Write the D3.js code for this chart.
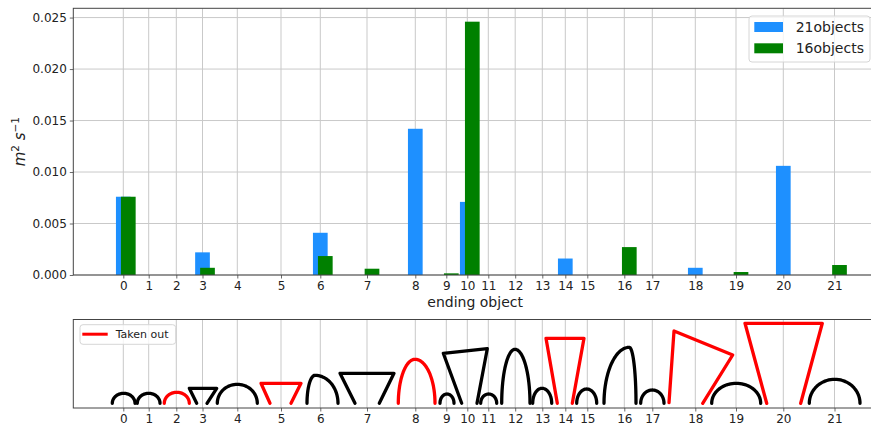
<!DOCTYPE html>
<html>
<head>
<meta charset="utf-8">
<script src="https://cdn.jsdelivr.net/npm/d3@7"></script>
<style>
  html, body { margin: 0; padding: 0; background: #fff; }
  svg { display: block; font-family: "DejaVu Sans", sans-serif; }
</style>
</head>
<body>
<svg id="chart" width="871" height="430"></svg>
<script>
// ---- data ----
const objectLabels = ['0', '1', '2', '3', '4', '5', '6', '7', '8', '9', '10',
    '11', '12', '13', '14', '15', '16', '17', '18', '19', '20', '21'];

// position of each object along the track (same units on both panels)
const objectPos = [5.0, 7.54, 10.3, 12.92, 16.4, 20.77, 24.7, 29.37, 34.2, 37.3, 39.4,
    41.5, 44.19, 46.9, 49.2, 51.4, 55.1, 57.9, 62.2, 66.27, 71.0, 76.12];

const series21 = [0.0076, 0, 0, 0.0022, 0, 0, 0.0041, 0, 0.0142, 0, 0.0071,
    0, 0, 0, 0.0016, 0, 0, 0, 0.0007, 0, 0.0106, 0];
const series16 = [0.0076, 0, 0, 0.0007, 0, 0, 0.00184, 0.00061, 0, 0.00016, 0.0246,
    0, 0, 0, 0, 0, 0.00271, 0, 0, 0.00029, 0, 0.00097];

const seriesNames = ['21objects', '16objects'];
const seriesColors = ['#1e90ff', '#008000'];

const yTicks = [0, 0.005, 0.010, 0.015, 0.020, 0.025];

// objects that were taken out (drawn red)
const takenOut = [2, 5, 8, 14, 18, 20];

// object outlines, relative to the object position
// arc: l = left foot, p = peak, r = right foot, h = height
// open: polyline points [dx, dy]
const outlines = [
    { kind: 'arc', l: -1.10, p: 0.04, r: 1.17, h: 1.0 },
    { kind: 'arc', l: -1.14, p: 0.0, r: 1.13, h: 1.0 },
    { kind: 'arc', l: -1.20, p: 0.05, r: 1.30, h: 1.1 },
    { kind: 'open', pts: [[-0.58, 0], [-1.32, 1.5], [1.42, 1.5], [0.45, 0]] },
    { kind: 'arc', l: -2.0, p: 0.0, r: 2.0, h: 1.9 },
    { kind: 'open', pts: [[-1.1, 0], [-2.0, 2.0], [2.0, 2.0], [1.0, 0]] },
    { kind: 'arc', l: -1.33, p: -0.53, r: 1.77, h: 2.8 },
    { kind: 'open', pts: [[-1.2, 0], [-2.7, 3.0], [2.7, 3.0], [1.23, 0]] },
    { kind: 'arc', l: -1.70, p: -0.03, r: 1.97, h: 4.4 },
    { kind: 'arc', l: -0.63, p: 0.07, r: 0.77, h: 0.93 },
    { kind: 'open', pts: [[-0.56, 0], [-2.4, 5.0], [2.0, 5.46], [0.97, 0]] },
    { kind: 'arc', l: -0.76, p: 0.04, r: 0.84, h: 0.93 },
    { kind: 'arc', l: -1.35, p: -0.02, r: 1.48, h: 5.4 },
    { kind: 'arc', l: -0.96, p: -0.03, r: 0.94, h: 1.5 },
    { kind: 'open', pts: [[-0.8, 0], [-1.93, 6.5], [1.87, 6.5], [0.7, 0]] },
    { kind: 'arc', l: -1.06, p: -0.06, r: 0.94, h: 1.43 },
    { kind: 'arc', l: -2.03, p: 0.5, r: 1.17, h: 5.6 },
    { kind: 'arc', l: -1.16, p: 0.0, r: 1.17, h: 1.33 },
    { kind: 'open', pts: [[-2.63, 0.06], [-2.13, 7.23], [3.74, 4.83], [0.74, 0]] },
    { kind: 'arc', l: -2.43, p: 0.02, r: 2.47, h: 2.0 },
    { kind: 'open', pts: [[-1.66, 0], [-3.83, 8.0], [3.9, 8.0], [1.74, 0]] },
    { kind: 'arc', l: -2.52, p: 0.02, r: 2.55, h: 2.4 }
];

// ---- layout ----
const left = 73.3, right = 877;
const top1 = 8.3, bottom1 = 275;
const top2 = 319.5, bottom2 = 408;
const barW = 1.47, groupShift = 0.5;
const groundLevel = 0.47;
const gridColor = '#c9c9c9';
const spineColor = '#444';

const svg = d3.select('#chart');

const x = d3.scaleLinear().domain([0, 80.37]).range([left, right]);
const y = d3.scaleLinear().domain([0, 0.0259]).range([bottom1, top1]);
const y2 = d3.scaleLinear().domain([0, 8.85]).range([bottom2, top2]);

// ---------- top panel ----------
const g1 = svg.append('g');

// grid
g1.append('g')
    .selectAll('line')
    .data(objectPos)
    .join('line')
    .attr('x1', d => x(d)).attr('x2', d => x(d))
    .attr('y1', top1).attr('y2', bottom1)
    .attr('stroke', gridColor).attr('stroke-width', 1);

g1.append('g')
    .selectAll('line')
    .data(yTicks)
    .join('line')
    .attr('x1', left).attr('x2', right)
    .attr('y1', d => y(d)).attr('y2', d => y(d))
    .attr('stroke', gridColor).attr('stroke-width', 1);

// bars
[series21, series16].forEach((vals, si) => {
    g1.append('g')
        .selectAll('rect')
        .data(vals.map((v, i) => ({ v, pos: objectPos[i] })).filter(d => d.v > 0))
        .join('rect')
        .attr('x', d => x(d.pos + si * groupShift - barW / 2))
        .attr('width', x(barW) - x(0))
        .attr('y', d => y(d.v))
        .attr('height', d => y(0) - y(d.v))
        .attr('fill', seriesColors[si]);
});

// axes
const xAxis1 = g1.append('g')
    .attr('transform', `translate(0,${bottom1})`)
    .call(d3.axisBottom(x).tickValues(objectPos).tickFormat((d, i) => objectLabels[i]).tickSize(3.5).tickPadding(3));

const yAxis1 = g1.append('g')
    .attr('transform', `translate(${left},0)`)
    .call(d3.axisLeft(y).tickValues(yTicks).tickFormat(d3.format('.3f')).tickSize(3.5).tickPadding(3));

[xAxis1, yAxis1].forEach(a => {
    a.select('.domain').remove();
    a.selectAll('.tick line').attr('stroke', spineColor).attr('stroke-width', 0.8);
    a.selectAll('text')
        .style('font-size', '12px')
        .style('font-family', 'DejaVu Sans')
        .attr('fill', '#222');
});

// spines
g1.append('rect')
    .attr('x', left).attr('y', top1)
    .attr('width', right - left).attr('height', bottom1 - top1)
    .attr('fill', 'none').attr('stroke', spineColor).attr('stroke-width', 1);

// labels
g1.append('text')
    .attr('x', (left + right) / 2)
    .attr('y', 307)
    .attr('text-anchor', 'middle')
    .style('font-size', '14px')
    .attr('fill', '#222')
    .text('ending object');

const yLabel = g1.append('text')
    .attr('transform', `translate(25,${(top1 + bottom1) / 2}) rotate(-90)`)
    .attr('text-anchor', 'middle')
    .style('font-size', '15px')
    .attr('fill', '#222');
yLabel.append('tspan').attr('font-style', 'italic').text('m');
yLabel.append('tspan').attr('dy', -6).style('font-size', '10.5px').text('2');
yLabel.append('tspan').attr('dy', 6).text('\u00a0');
yLabel.append('tspan').attr('font-style', 'italic').text('s');
yLabel.append('tspan').attr('dy', -6).style('font-size', '10.5px').text('\u22121');

// legend
const leg1 = g1.append('g').attr('transform', 'translate(749,16)');
leg1.append('rect')
    .attr('width', 121).attr('height', 46)
    .attr('rx', 3)
    .attr('fill', 'rgba(255,255,255,0.8)')
    .attr('stroke', '#d6d6d6');
seriesNames.forEach((name, i) => {
    const row = leg1.append('g').attr('transform', `translate(0,${11 + i * 21.3})`);
    row.append('rect')
        .attr('x', 5.3).attr('y', -5)
        .attr('width', 28.7).attr('height', 10)
        .attr('fill', seriesColors[i]);
    row.append('text')
        .attr('x', 46.7).attr('y', 5)
        .style('font-size', '14px')
        .attr('fill', '#222')
        .text(name);
});

// ---------- bottom panel ----------
const g2 = svg.append('g');

g2.append('g')
    .selectAll('line')
    .data(objectPos)
    .join('line')
    .attr('x1', d => x(d)).attr('x2', d => x(d))
    .attr('y1', top2).attr('y2', bottom2)
    .attr('stroke', gridColor).attr('stroke-width', 1);

const line = d3.line()
    .x(d => x(d[0]))
    .y(d => y2(d[1]));

function outlinePoints(o, cx) {
    if (o.kind === 'open') {
        return o.pts.map(p => [cx + p[0], groundLevel + p[1]]);
    }
    return d3.range(0, 41).map(k => {
        const t = Math.PI - k * Math.PI / 40;
        const c = Math.cos(t);
        const half = c < 0 ? (o.p - o.l) : (o.r - o.p);
        return [cx + o.p + half * c, groundLevel + o.h * Math.sin(t)];
    });
}

g2.append('g')
    .selectAll('path')
    .data(outlines)
    .join('path')
    .attr('d', (o, i) => line(outlinePoints(o, objectPos[i])))
    .attr('fill', 'none')
    .attr('stroke', (o, i) => takenOut.includes(i) ? '#ff0000' : '#000')
    .attr('stroke-width', 3.3)
    .attr('stroke-linejoin', 'round')
    .attr('stroke-linecap', 'round');

const xAxis2 = g2.append('g')
    .attr('transform', `translate(0,${bottom2})`)
    .call(d3.axisBottom(x).tickValues(objectPos).tickFormat((d, i) => objectLabels[i]).tickSize(3.5).tickPadding(3));
xAxis2.select('.domain').remove();
xAxis2.selectAll('.tick line').attr('stroke', spineColor).attr('stroke-width', 0.8);
xAxis2.selectAll('text')
    .style('font-size', '12px')
    .style('font-family', 'DejaVu Sans')
    .attr('fill', '#222');

g2.append('rect')
    .attr('x', left).attr('y', top2)
    .attr('width', right - left).attr('height', bottom2 - top2)
    .attr('fill', 'none').attr('stroke', spineColor).attr('stroke-width', 1);

const leg2 = g2.append('g').attr('transform', 'translate(80,324.7)');
leg2.append('rect')
    .attr('width', 95.7).attr('height', 19.6)
    .attr('rx', 3)
    .attr('fill', 'rgba(255,255,255,0.8)')
    .attr('stroke', '#d6d6d6');
leg2.append('line')
    .attr('x1', 2.3).attr('x2', 27.7)
    .attr('y1', 9.5).attr('y2', 9.5)
    .attr('stroke', '#ff0000').attr('stroke-width', 3);
leg2.append('text')
    .attr('x', 35.7).attr('y', 13.5)
    .style('font-size', '11px')
    .attr('fill', '#222')
    .text('Taken out');
</script>
</body>
</html>
